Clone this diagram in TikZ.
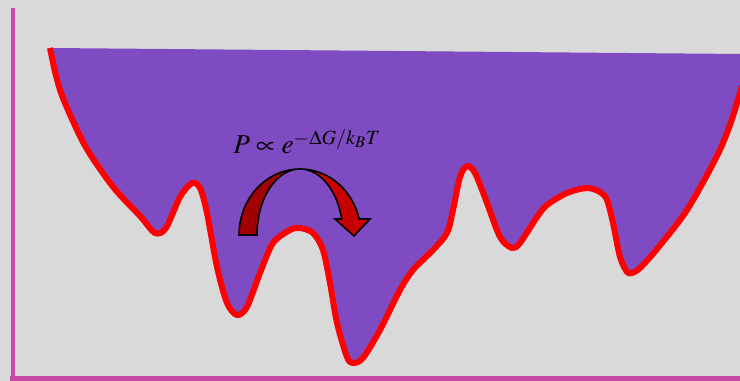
\documentclass[tikz,border=0pt]{standalone}
\usepackage{mathptmx}
\definecolor{bgc}{HTML}{D9D9D9}
\definecolor{axisc}{HTML}{C84AA6}
\definecolor{wellc}{HTML}{7F4BC2}
\definecolor{arrowdark}{HTML}{A00000}
\definecolor{arrowlight}{HTML}{C80000}
\tikzset{
  axisline/.style={draw=axisc, line width=0.1cm},
  landscape/.style={draw=red, line width=0.12cm, line join=round},
  arrowpart/.style={draw=black, line width=0.9pt, line join=miter},
}
\newcommand{\landpts}{(50,48) (55.7,74.5) (63.6,99.7) (85.3,146.3) (113.3,187.2) (140,216) (155,233) (166,228) (180,197) (192,183) (200,188) (207,213) (217,267) (227,303) (237,315) (247,307) (260,273) (273,243) (290,230) (300,228) (313,233) (323,250) (330,283) (337,323) (347,357) (353,363) (363,358) (380,330) (400,290) (413,270) (433,250) (447,233) (453,210) (460,177) (467,166) (475,173) (487,203) (500,237) (512,248) (520,243) (537,217) (547,205) (567,193) (587,188) (600,192) (607,200) (613,223) (620,257) (627,272) (632,273) (640,268) (657,249) (687,210) (717,156) (730.7,123) (742,86)}
\begin{document}
\begin{tikzpicture}[x=0.02cm, y=-0.02cm]
  \fill[bgc] (0,0) rectangle (740,381);
  \useasboundingbox (0,0) rectangle (740,381);
  % well fill
  \fill[wellc] (742,54) -- plot[smooth, tension=0.5] coordinates {\landpts} -- cycle;
  % landscape curve
  \draw[landscape] plot[smooth, tension=0.5] coordinates {\landpts};
  % axes
  \coordinate (ytop) at (13,8);
  \coordinate (origin) at (13,378.5);
  \coordinate (xend) at (741,378.5);
  \draw[axisline] (ytop) -- (13,381) ;
  \draw[axisline] (10,378.5) -- (xend);
  % curved arrow: back (dark) part
  \filldraw[arrowpart, fill=arrowdark]
    plot[domain=0:90, samples=30] ({300-61*cos(\x)},{235-66*sin(\x)})
    -- plot[domain=90:0, samples=30] ({300-43*cos(\x)},{235-66*sin(\x)}) -- cycle;
  % front part with head
  \filldraw[arrowpart, fill=arrowlight]
    plot[domain=90:14, samples=30] ({300+61*cos(\x)},{235-66*sin(\x)})
    -- (370,219) -- (354,236) -- (335,219)
    -- plot[domain=14:90, samples=30] ({300+43*cos(\x)},{235-66*sin(\x)}) -- cycle;
  % formula
  \node[anchor=base west, inner sep=0pt, font=\fontsize{15.5}{18}\selectfont] (formula) at (233,154)
    {$P \propto e^{-\Delta G/k_BT}$};
\end{tikzpicture}
\end{document}
